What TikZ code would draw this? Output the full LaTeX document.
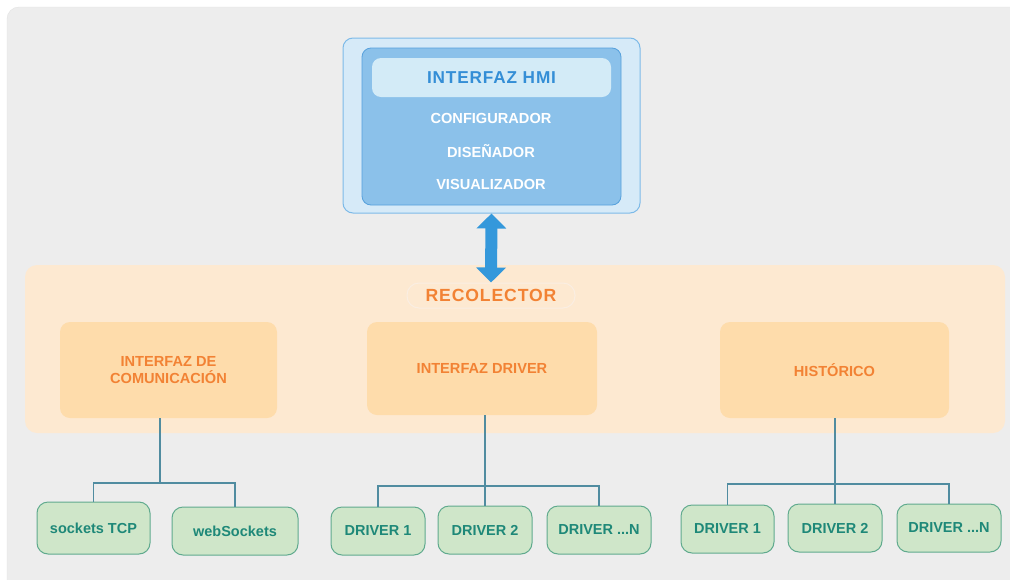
\documentclass[tikz,border=0pt]{standalone}
\usepackage{fontspec}
\setmainfont{Liberation Sans}
\newfontfamily\widefont[LetterSpace=5]{Liberation Sans}
\usetikzlibrary{arrows.meta}

\definecolor{panelgray}{RGB}{237,237,237}
\definecolor{panelline}{RGB}{226,226,226}
\definecolor{hmiout}{RGB}{214,234,248}
\definecolor{hmioutline}{RGB}{125,186,232}
\definecolor{hmiin}{RGB}{139,193,234}
\definecolor{hmiinline}{RGB}{86,160,220}
\definecolor{hmihead}{RGB}{211,235,247}
\definecolor{hmitext}{RGB}{52,142,214}
\definecolor{arrowblue}{RGB}{52,152,219}
\definecolor{recpanel}{RGB}{253,233,209}
\definecolor{recline}{RGB}{250,238,226}
\definecolor{boxorange}{RGB}{254,220,171}
\definecolor{txtorange}{RGB}{242,130,52}
\definecolor{linkblue}{RGB}{80,140,160}
\definecolor{leafgreen}{RGB}{207,230,201}
\definecolor{leafline}{RGB}{96,170,142}
\definecolor{leaftext}{RGB}{30,136,120}

\tikzset{
    subbox/.style={fill=boxorange, rounded corners=10pt, inner sep=0pt,
        text=txtorange, align=center,
        font=\bfseries\fontsize{14.6}{17}\selectfont},
    leaf/.style={draw=leafline, line width=1pt, fill=leafgreen,
        rounded corners=11pt, inner sep=0pt, minimum height=48pt,
        text=leaftext, font=\bfseries\fontsize{14.5}{16}\selectfont},
    hmiitem/.style={text=white, font=\bfseries\fontsize{14.6}{16}\selectfont},
    link/.style={draw=linkblue, line width=1.3pt},
}

\begin{document}
\begin{tikzpicture}[x=1pt,y=-1pt]
    \useasboundingbox (0,0) rectangle (1010,579);
    \fill[white] (0,0) rectangle (1010,579);
    \filldraw[fill=panelgray, draw=panelline, rounded corners=12pt]
        (7,7) rectangle (1040,610);

    % bloque HMI
    \node[draw=hmioutline, line width=1pt, fill=hmiout, rounded corners=10pt,
        minimum width=297pt, minimum height=175pt, inner sep=0pt]
        (hmi) at (491.5,125.5) {};
    \node[draw=hmiinline, line width=0.8pt, fill=hmiin, rounded corners=9pt,
        minimum width=259pt, minimum height=157pt, inner sep=0pt]
        (hmiin) at (491.5,126.5) {};
    \node[fill=hmihead, rounded corners=9pt, minimum width=239pt,
        minimum height=39pt, inner sep=0pt, text=hmitext,
        font=\widefont\bfseries\fontsize{17.2}{19}\selectfont]
        (hmihead) at (491.5,77.5) {INTERFAZ HMI};
    \node[hmiitem] (conf) at (491,118) {CONFIGURADOR};
    \node[hmiitem] (dis) at (491,151) {DISEÑADOR};
    \node[hmiitem] (vis) at (491,184) {VISUALIZADOR};

    % recolector
    \fill[recpanel, rounded corners=12pt] (25,265) rectangle (1005,433);
    \node[draw=recline, line width=1pt, fill=recpanel, rounded corners=12pt,
        minimum width=168pt, minimum height=25pt, inner sep=0pt,
        text=txtorange, font=\widefont\bfseries\fontsize{17.6}{19}\selectfont]
        (reco) at (491,295.5) {RECOLECTOR};

    \draw[arrowblue, line width=12pt,
        {Triangle[width=29pt,length=15pt]}-{Triangle[width=29pt,length=15pt]}]
        (hmi.south) -- (reco.north);

    \node[subbox, minimum width=217pt, minimum height=96pt]
        (comm) at (168.5,370) {INTERFAZ DE\\COMUNICACIÓN};
    \node[subbox, minimum width=230pt, minimum height=93pt]
        (drv) at (482,368.5) {INTERFAZ DRIVER};
    \node[subbox, minimum width=229pt, minimum height=96pt]
        (hist) at (834.5,370) {HISTÓRICO};

    % nodos hoja
    \node[leaf, minimum width=113pt, minimum height=52pt] (tcp) at (93.5,528) {sockets TCP};
    \node[leaf, minimum width=126pt] (web) at (235,531) {webSockets};
    \node[leaf, minimum width=94pt] (da1) at (378,531) {DRIVER 1};
    \node[leaf, minimum width=94pt] (da2) at (485,530) {DRIVER 2};
    \node[leaf, minimum width=104pt] (dan) at (599,530) {DRIVER ...N};
    \node[leaf, minimum width=93pt] (db1) at (727.5,529) {DRIVER 1};
    \node[leaf, minimum width=94pt] (db2) at (835,528) {DRIVER 2};
    \node[leaf, minimum width=104pt] (dbn) at (949,528) {DRIVER ...N};

    % conexiones
    \coordinate (jcomm) at (160,483);
    \coordinate (jdrv) at (485,486);
    \coordinate (jhist) at (835,484);

    \draw[link] (jcomm |- comm.south) -- (jcomm);
    \draw[link] (tcp.north) |- (jcomm) -| (web.north);

    \draw[link] (jdrv |- drv.south) -- (jdrv) -- (da2.north);
    \draw[link] (da1.north) |- (jdrv) -| (dan.north);

    \draw[link] (jhist |- hist.south) -- (jhist) -- (db2.north);
    \draw[link] (db1.north) |- (jhist) -| (dbn.north);
\end{tikzpicture}
\end{document}
